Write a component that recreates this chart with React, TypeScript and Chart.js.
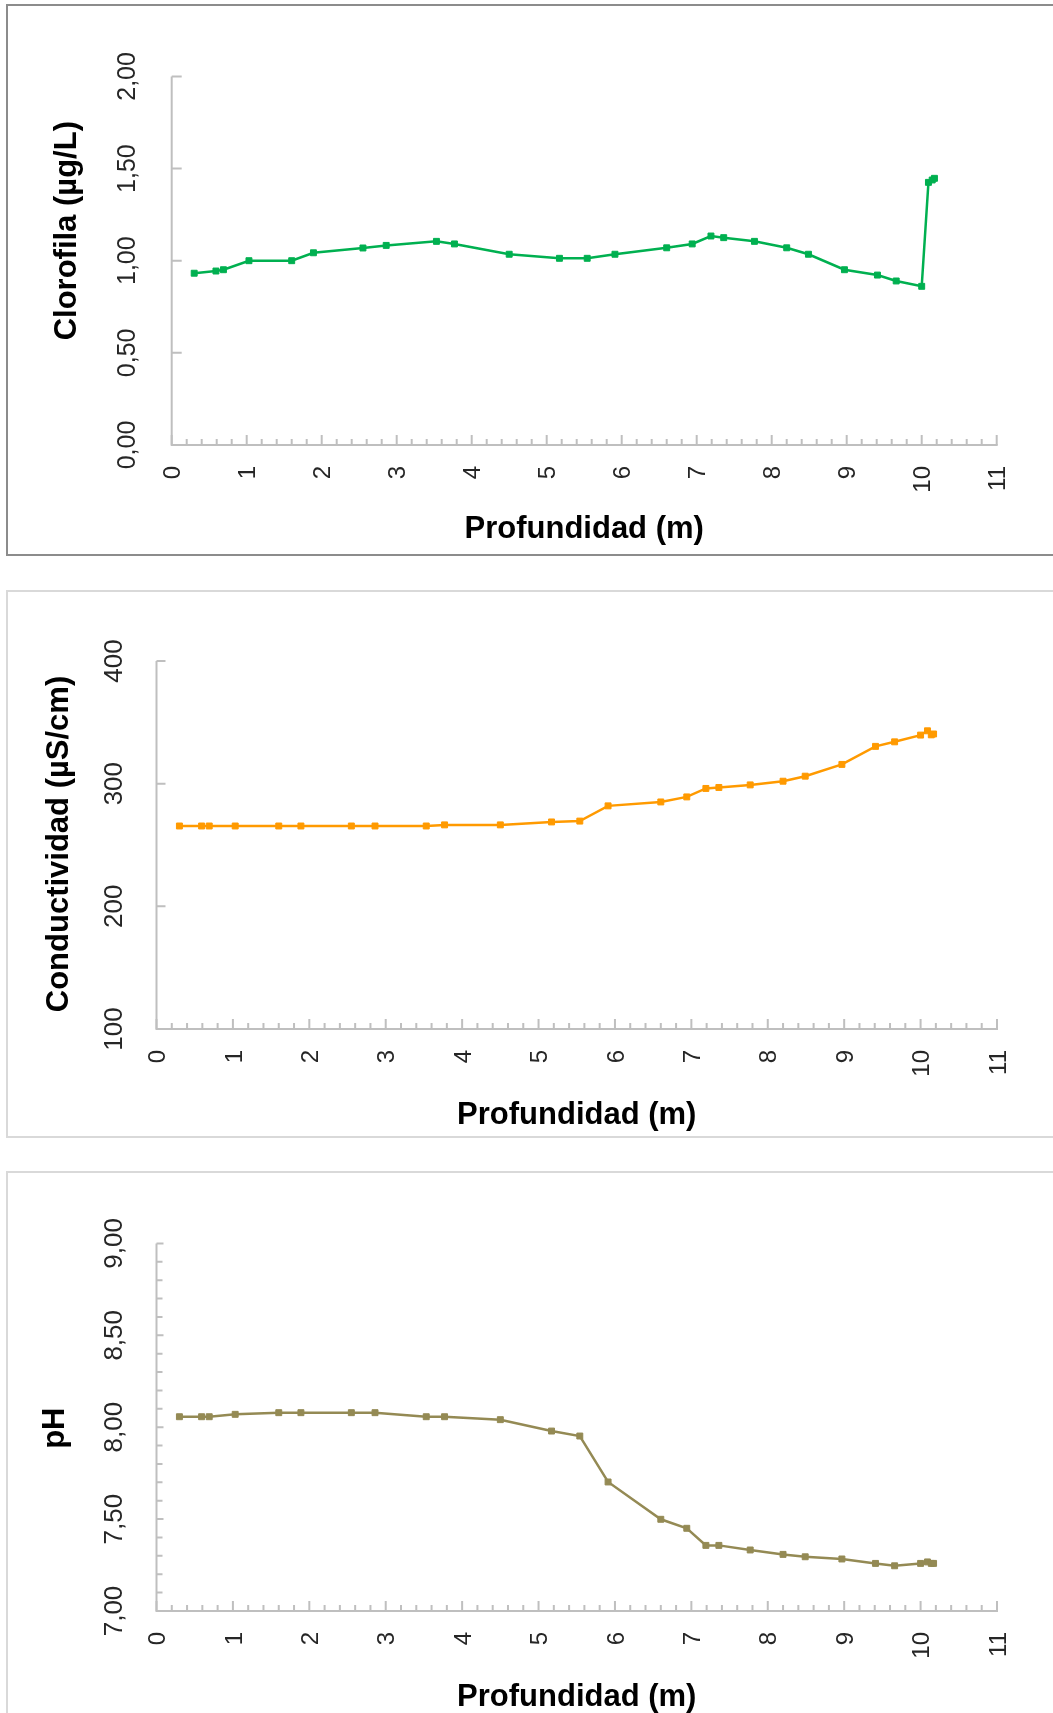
import React, { useEffect, useRef } from "react";
import { Chart, registerables } from "chart.js";

Chart.register(...registerables);

// ---- Data ----
const DEPTH = [0.30, 0.59, 0.69, 1.03, 1.60, 1.89, 2.55, 2.86, 3.53, 3.77, 4.50, 5.17, 5.54, 5.91, 6.60, 6.94, 7.19, 7.36, 7.77, 8.20, 8.49, 8.97, 9.41, 9.66, 10.00, 10.09, 10.14, 10.17];

const CLOROFILA = [0.932, 0.944, 0.951, 1.000, 1.000, 1.043, 1.069, 1.083, 1.105, 1.091, 1.035, 1.013, 1.013, 1.035, 1.070, 1.091, 1.134, 1.125, 1.105, 1.070, 1.035, 0.951, 0.922, 0.890, 0.861, 1.425, 1.438, 1.447];

const CONDUCTIVIDAD = [265.5, 265.5, 265.5, 265.5, 265.5, 265.5, 265.5, 265.5, 265.5, 266.4, 266.4, 268.8, 269.5, 281.9, 285.1, 289.2, 296.1, 296.9, 299.0, 302.0, 306.1, 315.7, 330.4, 334.1, 339.6, 343.1, 339.8, 340.5];

const PH = [8.057, 8.057, 8.057, 8.070, 8.079, 8.079, 8.079, 8.079, 8.057, 8.057, 8.041, 7.979, 7.952, 7.702, 7.499, 7.450, 7.357, 7.357, 7.332, 7.308, 7.295, 7.283, 7.259, 7.246, 7.259, 7.267, 7.259, 7.259];

const X_TICKS = [0, 1, 2, 3, 4, 5, 6, 7, 8, 9, 10, 11];
const CHL_TICKS = [0, 0.5, 1, 1.5, 2];
const COND_TICKS = [100, 200, 300, 400];
const PH_TICKS = [7, 7.5, 8, 8.5, 9];

const X_TITLE = "Profundidad (m)";
const FONT = '"Liberation Sans", Arial, Helvetica, sans-serif';

type PanelCfg = {
  id: string;
  canvasTop: number;
  canvasHeight: number;
  area: { left: number; right: number; top: number; bottom: number };
  values: number[];
  yTicks: number[];
  yDecimals: number;
  yMinorStep: number | null;
  yTitle: string;
  yTitleShift: number;
  yTitleOffset: number;
  yLabelOffset: number;
  yLabelSize: number;
  yMajorLen: number;
  xTitleOffset: number;
  color: string;
};

const PANELS: PanelCfg[] = [
  {
    id: "chl",
    canvasTop: 0,
    canvasHeight: 562,
    area: { left: 171.7, right: 996.7, top: 76.4, bottom: 445 },
    values: CLOROFILA,
    yTicks: CHL_TICKS,
    yDecimals: 2,
    yMinorStep: null,
    yTitle: "Clorofila (µg/L)",
    yTitleShift: -30,
    yTitleOffset: 96,
    yLabelOffset: 37,
    yLabelSize: 25,
    yMajorLen: 10,
    xTitleOffset: 93,
    color: "#00B050",
  },
  {
    id: "cond",
    canvasTop: 570,
    canvasHeight: 575,
    area: { left: 156.5, right: 997, top: 661, bottom: 1029 },
    values: CONDUCTIVIDAD,
    yTicks: COND_TICKS,
    yDecimals: 0,
    yMinorStep: null,
    yTitle: "Conductividad (µS/cm)",
    yTitleShift: -1,
    yTitleOffset: 89,
    yLabelOffset: 35,
    yLabelSize: 26,
    yMajorLen: 9,
    xTitleOffset: 95,
    color: "#FF9A00",
  },
  {
    id: "ph",
    canvasTop: 1150,
    canvasHeight: 563,
    area: { left: 156.5, right: 997, top: 1243.4, bottom: 1611 },
    values: PH,
    yTicks: PH_TICKS,
    yDecimals: 2,
    yMinorStep: 0.1,
    yTitle: "pH",
    yTitleShift: 1,
    yTitleOffset: 93,
    yLabelOffset: 35,
    yLabelSize: 26,
    yMajorLen: 7,
    xTitleOffset: 95,
    color: "#948A54",
  },
];

const fmt = (v: number, d: number) => v.toFixed(d).replace(".", ",");

const excelAxes = {
  id: "excelAxes",
  beforeDatasetsDraw(chart: any, _args: any, opts: any) {
    const cfg: PanelCfg = opts.cfg;
    if (!cfg) return;
    const ctx: CanvasRenderingContext2D = chart.ctx;
    const xs = chart.scales.x;
    const ys = chart.scales.y;
    const { left, right, top, bottom } = chart.chartArea;
    const axisColor = "#BFBFBF";
    ctx.save();
    ctx.strokeStyle = axisColor;
    ctx.lineWidth = 2;
    ctx.lineCap = "butt";
    // axis lines
    ctx.beginPath();
    ctx.moveTo(left, top);
    ctx.lineTo(left, bottom + 1);
    ctx.moveTo(left - 1, bottom);
    ctx.lineTo(right + 1, bottom);
    ctx.stroke();

    // x ticks (major every 1, minor every 0.2), inside
    const xMin = X_TICKS[0];
    const xMax = X_TICKS[X_TICKS.length - 1];
    ctx.beginPath();
    for (let k = 0; k <= Math.round((xMax - xMin) / 0.2); k++) {
      const v = xMin + k * 0.2;
      const px = xs.getPixelForValue(v);
      const major = k % 5 === 0;
      const len = major ? 10 : 6;
      ctx.moveTo(px, bottom);
      ctx.lineTo(px, bottom - len);
    }
    ctx.stroke();

    // y ticks
    const yMin = cfg.yTicks[0];
    const yMax = cfg.yTicks[cfg.yTicks.length - 1];
    ctx.beginPath();
    if (cfg.yMinorStep) {
      const n = Math.round((yMax - yMin) / cfg.yMinorStep);
      for (let k = 0; k <= n; k++) {
        const v = yMin + k * cfg.yMinorStep;
        const py = ys.getPixelForValue(v);
        ctx.moveTo(left, py);
        ctx.lineTo(left + 6, py);
      }
    }
    cfg.yTicks.forEach((v) => {
      const py = ys.getPixelForValue(v);
      ctx.moveTo(left, py);
      ctx.lineTo(left + cfg.yMajorLen, py);
    });
    ctx.stroke();

    // x tick labels (rotated)
    ctx.fillStyle = "#262626";
    const xSize = 24;
    ctx.font = `${xSize}px ${FONT}`;
    ctx.textAlign = "right";
    ctx.textBaseline = "alphabetic";
    X_TICKS.forEach((v) => {
      const px = xs.getPixelForValue(v);
      ctx.save();
      ctx.translate(px, bottom + 21);
      ctx.rotate(-Math.PI / 2);
      ctx.fillText(String(v), 0, (xSize * 0.716) / 2);
      ctx.restore();
    });

    // y tick labels (rotated)
    ctx.font = `${cfg.yLabelSize}px ${FONT}`;
    ctx.textAlign = "center";
    cfg.yTicks.forEach((v) => {
      const py = ys.getPixelForValue(v);
      ctx.save();
      ctx.translate(left - cfg.yLabelOffset, py);
      ctx.rotate(-Math.PI / 2);
      ctx.fillText(fmt(v, cfg.yDecimals), 0, 0);
      ctx.restore();
    });

    // axis titles
    ctx.fillStyle = "#000000";
    ctx.font = `bold 31px ${FONT}`;
    ctx.textAlign = "center";
    ctx.fillText(X_TITLE, (left + right) / 2, bottom + cfg.xTitleOffset);
    ctx.save();
    ctx.translate(left - cfg.yTitleOffset, (top + bottom) / 2 + cfg.yTitleShift);
    ctx.rotate(-Math.PI / 2);
    ctx.fillText(cfg.yTitle, 0, 0);
    ctx.restore();

    ctx.restore();
  },
};

function PanelChart({ cfg }: { cfg: PanelCfg }) {
  const ref = useRef<HTMLCanvasElement>(null);
  useEffect(() => {
    const canvas = ref.current;
    if (!canvas) return;
    const W = 1053;
    const chart = new Chart(canvas, {
      type: "scatter",
      data: {
        datasets: [
          {
            data: DEPTH.map((d, i) => ({ x: d, y: cfg.values[i] })),
            showLine: true,
            borderColor: cfg.color,
            backgroundColor: cfg.color,
            borderWidth: 2.5,
            pointStyle: "rect",
            pointRadius: 4.2,
            pointBorderWidth: 1,
            pointBorderColor: cfg.color,
            pointBackgroundColor: cfg.color,
            tension: 0,
            clip: false as any,
          },
        ],
      },
      options: {
        animation: false,
        responsive: false,
        devicePixelRatio: 1,
        events: [],
        layout: {
          padding: {
            left: cfg.area.left,
            right: W - cfg.area.right,
            top: cfg.area.top - cfg.canvasTop,
            bottom: cfg.canvasTop + cfg.canvasHeight - cfg.area.bottom,
          },
        },
        scales: {
          x: {
            type: "linear",
            display: false,
            min: X_TICKS[0],
            max: X_TICKS[X_TICKS.length - 1],
          },
          y: {
            type: "linear",
            display: false,
            min: cfg.yTicks[0],
            max: cfg.yTicks[cfg.yTicks.length - 1],
          },
        },
        plugins: {
          legend: { display: false },
          tooltip: { enabled: false },
          title: { display: false },
          excelAxes: { cfg },
        } as any,
      },
      plugins: [excelAxes],
    });
    return () => chart.destroy();
  }, [cfg]);
  return (
    <canvas
      ref={ref}
      width={1053}
      height={cfg.canvasHeight}
      style={{
        position: "absolute",
        left: 0,
        top: cfg.canvasTop,
        width: 1053,
        height: cfg.canvasHeight,
      }}
    />
  );
}

export default function App() {
  const boxBase: React.CSSProperties = {
    position: "absolute",
    left: 6,
    width: 1100,
    boxSizing: "border-box",
    background: "#ffffff",
  };
  return (
    <div
      style={{
        position: "absolute",
        left: 0,
        top: 0,
        width: 1053,
        height: 1713,
        overflow: "hidden",
        background: "#ffffff",
      }}
    >
      <div style={{ ...boxBase, top: 4, height: 552, border: "2px solid #8C8C8C" }} />
      <div style={{ ...boxBase, top: 590, height: 548, border: "2px solid #D9D9D9" }} />
      <div style={{ ...boxBase, top: 1171, height: 620, border: "2px solid #D9D9D9" }} />
      {PANELS.map((p) => (
        <PanelChart key={p.id} cfg={p} />
      ))}
    </div>
  );
}
